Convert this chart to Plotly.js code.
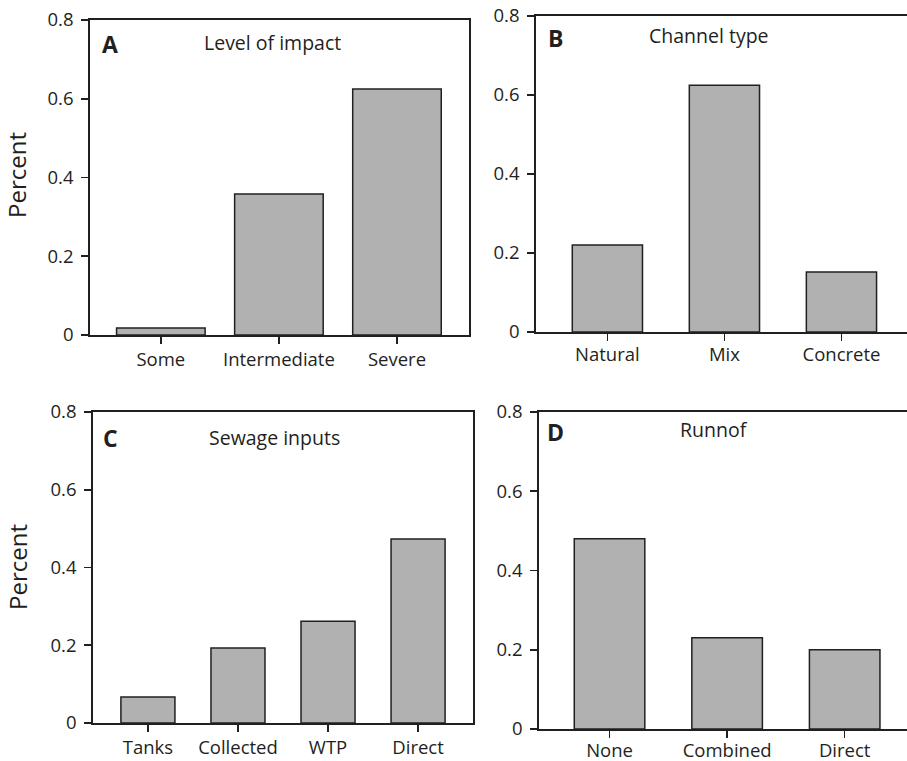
<!DOCTYPE html>
<html>
<head>
<meta charset="utf-8">
<script src="https://cdn.plot.ly/plotly-3.0.1.min.js"></script>
<style>html,body{margin:0;padding:0;background:#fff;}#chart{width:907px;height:761px;}</style>
</head>
<body>
<div id="chart"></div>
<script>
// ---- data ----
var impactCats = ["Some", "Intermediate", "Severe"];
var impactVals = [0.018, 0.358, 0.625];
var channelCats = ["Natural", "Mix", "Concrete"];
var channelVals = [0.22, 0.625, 0.152];
var sewageCats = ["Tanks", "Collected", "WTP", "Direct"];
var sewageVals = [0.067, 0.193, 0.262, 0.473];
var runoffCats = ["None", "Combined", "Direct"];
var runoffVals = [0.48, 0.23, 0.20];
var yTicks = [0, 0.2, 0.4, 0.6, 0.8];
var panelLetters = ["A", "B", "C", "D"];
var panelTitles = ["Level of impact", "Channel type", "Sewage inputs", "Runnof"];
var yLabel = "Percent";

var W = 907, H = 761;
function px(x){ return x / W; }
function py(y){ return 1 - y / H; }

var FONT = "Open Sans, DejaVu Sans, sans-serif";
var TXT = "#231f20";
var barFill = "#b1b1b1";
var barLine = {color: "#231f20", width: 1.5};

function barTrace(cats, vals, xa, ya, width) {
  return {
    type: "bar",
    x: cats.map(function(c, i){ return i; }),
    y: vals,
    xaxis: xa, yaxis: ya,
    width: width,
    marker: {color: barFill, line: barLine},
    hoverinfo: "x+y",
    showlegend: false
  };
}

var data = [
  barTrace(impactCats, impactVals, "x", "y", 0.75),
  barTrace(channelCats, channelVals, "x2", "y2", 0.6),
  barTrace(sewageCats, sewageVals, "x3", "y3", 0.6),
  barTrace(runoffCats, runoffVals, "x4", "y4", 0.6)
];

function xAxis(cats, domain, range, mirror, anchor, standoff) {
  return {
    domain: domain,
    range: range,
    anchor: anchor,
    tickmode: "array",
    tickvals: cats.map(function(c, i){ return i; }),
    ticktext: cats,
    ticks: "outside",
    ticklen: 7,
    tickwidth: 1.6,
    tickcolor: TXT,
    ticklabelstandoff: standoff,
    showline: true,
    linecolor: TXT,
    linewidth: 1.8,
    mirror: mirror,
    showgrid: false,
    zeroline: false,
    fixedrange: true,
    tickfont: {family: FONT, size: 18.5, color: TXT}
  };
}
function yAxis(domain, mirror, anchor) {
  return {
    domain: domain,
    range: [0, 0.8],
    anchor: anchor,
    tickmode: "array",
    tickvals: yTicks,
    ticktext: yTicks.map(function(v){ return v === 0 ? "0" : String(v); }),
    ticks: "outside",
    ticklen: 7,
    tickwidth: 1.6,
    tickcolor: TXT,
    ticklabelstandoff: 4,
    showline: true,
    linecolor: TXT,
    linewidth: 1.8,
    mirror: mirror,
    showgrid: false,
    zeroline: false,
    fixedrange: true,
    tickfont: {family: FONT, size: 18.5, color: TXT}
  };
}

var layout = {
  width: W, height: H,
  margin: {l: 0, r: 0, t: 0, b: 0},
  paper_bgcolor: "#fff",
  plot_bgcolor: "#fff",
  showlegend: false,
  bargap: 0,
  xaxis:  xAxis(impactCats,  [px(90),  px(469)], [-0.6, 2.61], true, "y", 0),
  yaxis:  yAxis([py(335), py(20)], true, "x"),
  xaxis2: xAxis(channelCats, [px(536), 1], [-0.61, 2.56], true, "y2", -2),
  yaxis2: yAxis([py(332), py(16)], false, "x2"),
  xaxis3: xAxis(sewageCats,  [px(93),  px(473)], [-0.61, 3.61], true, "y3", 0),
  yaxis3: yAxis([py(723), py(412)], true, "x3"),
  xaxis4: xAxis(runoffCats,  [px(539), 1], [-0.6, 2.53], true, "y4", -3),
  yaxis4: yAxis([py(729), py(412)], false, "x4"),
  annotations: []
};

var letterPos = [[110, 44], [555, 38], [110, 438], [555, 432]];
var titlePos  = [[272, 43], [709, 36], [274, 437], [714, 429]];
for (var i = 0; i < 4; i++) {
  layout.annotations.push({
    text: "<b>" + panelLetters[i] + "</b>",
    x: px(letterPos[i][0]), y: py(letterPos[i][1]),
    xref: "paper", yref: "paper", xanchor: "center", yanchor: "middle",
    showarrow: false,
    font: {family: FONT, size: 23, color: TXT}
  });
  layout.annotations.push({
    text: panelTitles[i],
    x: px(titlePos[i][0]), y: py(titlePos[i][1]),
    xref: "paper", yref: "paper", xanchor: "center", yanchor: "middle",
    showarrow: false,
    font: {family: FONT, size: 19.5, color: TXT}
  });
}
[[17, 175], [17, 567]].forEach(function(p){
  layout.annotations.push({
    text: yLabel,
    x: px(p[0]), y: py(p[1]),
    xref: "paper", yref: "paper", xanchor: "center", yanchor: "middle",
    textangle: -90,
    showarrow: false,
    font: {family: FONT, size: 24, color: TXT}
  });
});

Plotly.newPlot("chart", data, layout, {displayModeBar: false, staticPlot: true});
</script>
</body>
</html>
